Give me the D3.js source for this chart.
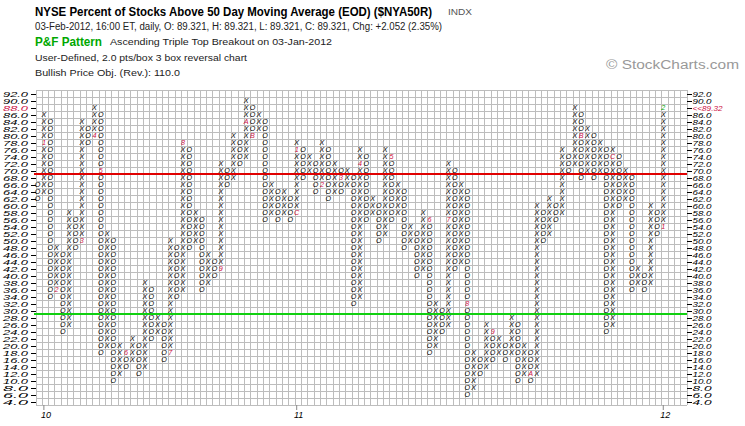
<!DOCTYPE html>
<html>
<head>
<meta charset="utf-8">
<title>$NYA50R Point &amp; Figure</title>
<script src="https://d3js.org/d3.v7.min.js"></script>
<style>
  body { margin: 0; background: #fff; }
  text { font-family: "Liberation Sans", Arial, sans-serif; }
</style>
</head>
<body>
<svg width="745" height="426"></svg>
<script>
// P&F columns: lowest and highest box of each column. Column 0 is an O column, then X/O alternate.
var firstKind = "O";
var colLow  = [62,64,34,36,24,26,48,50,78,80, 18,20,10,12,14,16,12,14,22,24,
               16,18,34,36,48,50,36,38,40,42, 66,68,72,74,80,82,56,58,56,58,
               56,58,68,70,64,66,62,64,64,66, 32,34,56,58,50,52,56,58,48,50,
               40,42,18,20,24,26,42,44, 6, 8, 12,14,16,18,16,18,10,12,10,12,
               50,52,56,58,70,72,68,70,68,70, 24,26,60,62,36,38,36,38,52,54];
var colHigh = [66,86,84,48,46,58,56,84,82,88, 86,52,50,20,18,22,20,38,36,28,
               26,50,48,78,76,58,56,46,44,72, 70,80,78,90,88,86,84,66,64,64,
               62,78,76,74,72,78,76,72,70,70, 68,76,74,62,60,76,74,66,64,54,
               52,58,56,32,30,72,70,66,64,18, 16,26,24,22,20,28,26,20,18,60,
               58,62,60,76,74,88,86,82,80,78, 76,76,74,70,68,42,40,60,58,88];

// month markers (first box of each month)
var markCol  = [1,3,7,9,10,14,21,23,29,33,34,41, 41,45,48,51,56,62,65,68,72,78,86,91, 99,99];
var markBox  = [78,36,50,80,70,18,18,78,42,84,80,58, 76,66,68,72,74,56,56,32,24,12,80,74, 54,88];
var markText = ["1","2","3","4","5","6","7","8","9","A","B","C",
                "1","2","3","4","5","6","7","8","9","A","B","C","1","2"];

// year labels on the bottom
var yearCol  = [1, 41, 99];
var yearText = ["10", "11", "12"];

var lastPrice = 89.32;
var boxSize = 2;
var bullLevel = 69, bearLevel = 29;

var svg = d3.select("svg"),
    width = +svg.attr("width"),
    height = +svg.attr("height");

var nCols = 103;
var x = d3.scaleLinear().domain([0, nCols]).range([36, 687]);   // cell edges
var y = d3.scaleLinear().domain([93, 3]).range([90, 405]);      // box value -> px
function cx(i) { return x(i + 0.5) - 1.6; }

var crimson = "#cc1144", green = "#00a800";

// ---- header ----
var head = svg.append("g");
function line(t, xx, yy, size, opts) {
  opts = opts || {};
  var el = head.append("text").attr("x", xx).attr("y", yy)
    .attr("font-size", size).attr("fill", opts.fill || "#000")
    .attr("font-weight", opts.bold ? "bold" : "normal").text(t);
  if (opts.len) el.attr("textLength", opts.len).attr("lengthAdjust", "spacingAndGlyphs");
  return el;
}
line("NYSE Percent of Stocks Above 50 Day Moving Average (EOD) ($NYA50R)", 35, 15.5, 12, {bold: true, len: 397});
line("INDX", 448, 15, 9, {fill: "#555", len: 24});
line("03-Feb-2012, 16:00 ET, daily, O: 89.321, H: 89.321, L: 89.321, C: 89.321, Chg: +2.052 (2.35%)", 35, 29.5, 10, {fill: "#222", len: 407});
line("P&F Pattern", 35, 45.5, 12.5, {bold: true, fill: green, len: 67});
line("Ascending Triple Top Breakout on 03-Jan-2012", 110, 45, 9.5, {fill: "#222", len: 222});
line("User-Defined, 2.0 pts/box 3 box reversal chart", 35, 60.5, 9.5, {fill: "#222", len: 212});
line("Bullish Price Obj. (Rev.): 110.0", 35, 75.5, 9.5, {fill: "#222", len: 145});
line("\u00a9 StockCharts.com", 606, 69, 12.5, {fill: "#999", len: 133});

// ---- grid ----
var grid = svg.append("g").attr("stroke", "#bdbdbd").attr("stroke-width", 1).attr("shape-rendering", "crispEdges");
grid.selectAll("line.v").data(d3.range(nCols + 1)).enter().append("line")
  .attr("x1", function(d) { return x(d); }).attr("x2", function(d) { return x(d); })
  .attr("y1", y(93)).attr("y2", y(3));
grid.selectAll("line.h").data(d3.range(3, 94, boxSize)).enter().append("line")
  .attr("y1", function(d) { return y(d); }).attr("y2", function(d) { return y(d); })
  .attr("x1", x(0)).attr("x2", x(nCols));

// ---- axes ----
var boxValues = d3.range(4, 93, boxSize);
var lastBox = Math.floor(lastPrice / boxSize) * boxSize;
var fmt = d3.format(".1f");

var yLeft = svg.append("g").attr("transform", "translate(" + x(0) + ",0)")
  .call(d3.axisLeft(y).tickValues(boxValues).tickFormat(fmt).tickSize(5).tickPadding(3));
var yRight = svg.append("g").attr("transform", "translate(" + x(nCols) + ",0)")
  .call(d3.axisRight(y).tickValues(boxValues)
    .tickFormat(function(d) { return d === lastBox ? "<<" + lastPrice : fmt(d); })
    .tickSize(5).tickPadding(0.5));
[yLeft, yRight].forEach(function(ax, k) {
  ax.select(".domain").remove();
  ax.selectAll(".tick line").attr("stroke", "#000").attr("shape-rendering", "crispEdges");
  ax.selectAll(".tick text")
    .attr("font-family", "Liberation Sans, Arial, sans-serif")
    .attr("font-style", "italic")
    .attr("font-size", 8)
    .attr("dy", "0.36em")
    .attr("fill", function(d) { return d === lastBox ? crimson : "#000"; })
    .attr("textLength", function(d) { return k === 1 && d === lastBox ? 30 : (k === 0 ? 25 : 19); })
    .attr("lengthAdjust", "spacingAndGlyphs");
});

// ---- signal lines ----
svg.append("line").attr("x1", x(0) - 2).attr("x2", x(nCols))
  .attr("y1", y(bullLevel)).attr("y2", y(bullLevel))
  .attr("stroke", "#e00000").attr("stroke-width", 2);
svg.append("line").attr("x1", x(0) - 2).attr("x2", x(nCols))
  .attr("y1", y(bearLevel)).attr("y2", y(bearLevel))
  .attr("stroke", "#10d010").attr("stroke-width", 2);

// ---- X / O boxes ----
var markAt = {};
markCol.forEach(function(c, k) { markAt[c + ":" + markBox[k]] = k; });
var other = firstKind === "O" ? "X" : "O";
var boxes = [];
colLow.forEach(function(lo, i) {
  var kind = i % 2 === 0 ? firstKind : other;
  for (var v = lo; v <= colHigh[i]; v += boxSize) {
    var k = markAt[i + ":" + v];
    boxes.push({col: i, box: v, text: k === undefined ? kind : markText[k], mark: k});
  }
});

svg.append("g").selectAll("text").data(boxes).enter().append("text")
  .attr("x", function(d) { return cx(d.col); })
  .attr("y", function(d) { return y(d.box) + 2.6; })
  .attr("text-anchor", "middle")
  .attr("font-size", 7.2)
  .attr("font-style", "italic")
  .attr("fill", function(d) {
    if (d.mark === undefined) return "#000";
    return d.mark === markCol.length - 1 ? green : crimson;
  })
  .text(function(d) { return d.text; });

// ---- year ticks ----
var years = svg.append("g").selectAll("g").data(yearCol).enter().append("g")
  .attr("transform", function(d) { return "translate(" + cx(d) + "," + y(3) + ")"; });
years.append("line").attr("y2", 5).attr("stroke", "#888");
years.append("text").attr("x", 2).attr("y", 12.5).attr("text-anchor", "middle")
  .attr("font-size", 9).attr("font-style", "italic")
  .text(function(d, i) { return yearText[i]; });
</script>
</body>
</html>
